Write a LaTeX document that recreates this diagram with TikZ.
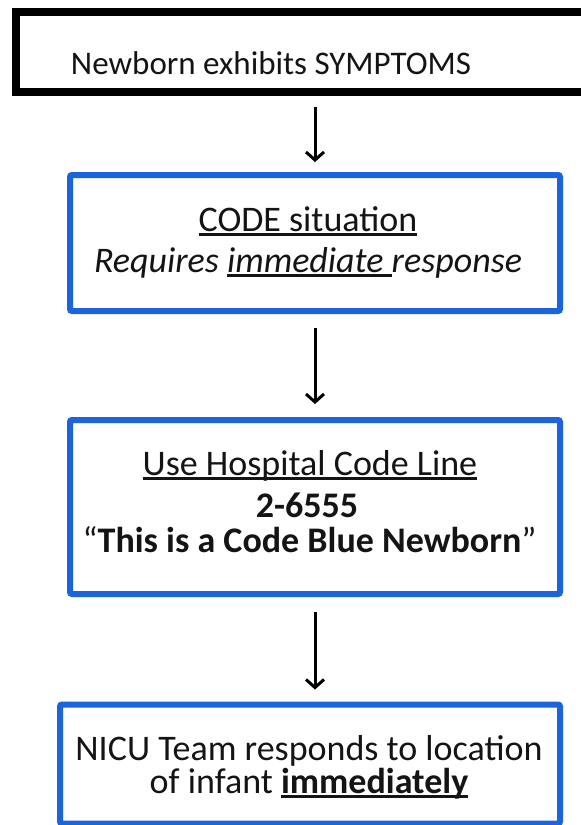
\documentclass[tikz,border=0pt]{standalone}
\usepackage{fontspec}
\setmainfont{Carlito}
\usetikzlibrary{arrows.meta,calc}
\definecolor{boxblue}{RGB}{28,99,222}
\newcommand\myul[1]{\setbox0\hbox{#1}\rlap{\rule[-4.5pt]{\wd0}{2.4pt}}\box0}
\begin{document}
\begin{tikzpicture}[x=1pt,y=-1pt,
  blackbox/.style={draw=black, line width=8pt, outer sep=0pt, inner sep=0pt, anchor=north west, fill=white},
  bluebox/.style={draw=boxblue, line width=6pt, outer sep=0pt, inner sep=0pt, anchor=north west, rounded corners=2pt, fill=white},
  txt/.style={anchor=base, inner sep=0pt, font=\fontsize{36}{42}\selectfont, text=black!92},
  arr/.style={draw=black, line width=3pt, -{Straight Barb[length=8pt,width=18pt,line width=3pt]}}]
\useasboundingbox (0,0) rectangle (581,825);
\clip (0,0) rectangle (581,825);
\fill[white] (0,0) rectangle (581,825);
\coordinate (ax) at (315,0);
% boxes
\node[blackbox, minimum width=620pt, minimum height=80pt] (b1) at (16,12) {};
\node[bluebox, minimum width=490pt, minimum height=136pt] (b2) at (70,175) {};
\node[bluebox, minimum width=490pt, minimum height=174pt] (b3) at (70,420) {};
\node[bluebox, minimum width=500pt, minimum height=119pt] (b4) at (60,704.5) {};
% texts
\node[txt, font=\fontsize{33}{40}\selectfont] (t1) at (271,74) {Newborn exhibits SYMPTOMS};
\node[txt] (t2a) at (308,231) {\myul{CODE situation}};
\node[txt] (t2b) at (308,272) {\itshape Requires \myul{immediate }response};
\node[txt] (t3a) at (310,475) {\myul{Use Hospital Code Line}};
\node[txt] (t3b) at (307,517) {\bfseries 2-6555};
\node[txt] (t3c) at (309.5,552) {“\textbf{This is a Code Blue Newborn}”};
\node[txt] (t4a) at (309,760) {NICU Team responds to location};
\node[txt] (t4b) at (309,793) {of infant \myul{\bfseries immediately}};
% arrows
\draw[arr] ([yshift=-15pt]b1.south -| ax) -- ([yshift=13pt]b2.north -| ax);
\draw[arr] ([yshift=-17pt]b2.south -| ax) -- ([yshift=16pt]b3.north -| ax);
\draw[arr] ([yshift=-18pt]b3.south -| ax) -- ([yshift=15pt]b4.north -| ax);
\end{tikzpicture}
\end{document}
